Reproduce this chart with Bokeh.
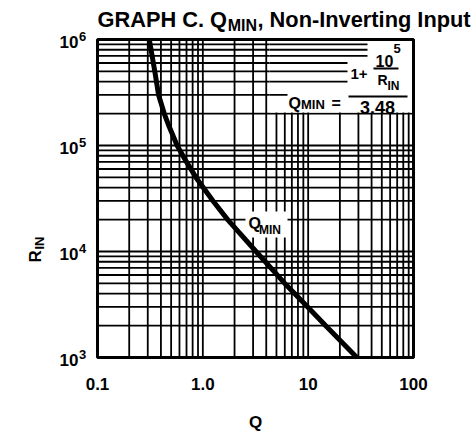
import math
from bokeh.plotting import figure
from bokeh.core.properties import value
from bokeh.embed import file_html
from bokeh.resources import INLINE

# ---- data ----
r_in = [1e6, 7e5, 5e5, 3e5, 2e5, 1.5e5, 1e5, 7e4, 5e4, 3e4, 2e4, 1e4, 5e3, 3e3, 2e3, 1e3]
q_min = [0.31, 0.33, 0.35, 0.38, 0.43, 0.48, 0.57, 0.70, 0.86, 1.25, 1.72, 3.2, 6.0, 9.9, 14.6, 29.0]

x_ticks = [0.1, 1, 10, 100]
x_tick_labels = ["0.1", "1.0", "10", "100"]
y_ticks = [1e3, 1e4, 1e5, 1e6]
y_tick_exps = ["3", "4", "5", "6"]
title_parts = ["GRAPH C. Q", "MIN", ", Non-Inverting Input"]
x_title = "Q"
y_title = ["R", "IN"]
curve_label = ["Q", "MIN"]
formula = {"lhs": "Q", "lhs_sub": "MIN", "eq": "=", "one": "1+", "num": "10", "num_exp": "5",
           "den": "R", "den_sub": "IN", "div": "3.48"}

x_minor = [m * 10 ** k for k in range(-1, 2) for m in range(2, 10)]
y_minor = [m * 10 ** k for k in range(3, 6) for m in range(2, 10)]

FONT = "Liberation Sans"
W, H = 473, 431
# plot box in canvas pixels
XL, XR, YT, YB = 97, 413, 39, 357
XDEC = (XR - XL) / 3.0
YDEC = (YB - YT) / 3.0


def dq(px):
    return 10 ** (-1 + (px - XL) / XDEC)


def dr(py):
    return 10 ** (3 + (YB - py) / YDEC)


def shift_x(v, dpx):
    return v * 10 ** (dpx / XDEC)


def shift_y(v, dpx):  # positive dpx moves down on screen
    return v * 10 ** (-dpx / YDEC)


p = figure(width=W, height=H, x_axis_type="log", y_axis_type="log",
           x_range=(dq(0), dq(W)), y_range=(dr(H), dr(0)),
           x_axis_location=None, y_axis_location=None,
           toolbar_location=None, output_backend="svg", title=None,
           min_border=0, min_border_left=0, min_border_right=0,
           min_border_top=0, min_border_bottom=0)
p.background_fill_color = "white"
p.border_fill_color = "white"
p.outline_line_color = None
p.grid.visible = False

x_lo, x_hi = x_ticks[0], x_ticks[-1]
y_lo, y_hi = y_ticks[0], y_ticks[-1]

# grid
xg = x_ticks + x_minor
yg = y_ticks + y_minor
p.segment(x0=xg, y0=[y_lo] * len(xg), x1=xg, y1=[y_hi] * len(xg),
          line_color="black", line_width=1.8)
p.segment(x0=[x_lo] * len(yg), y0=yg, x1=[x_hi] * len(yg), y1=yg,
          line_color="black", line_width=1.8)

# white area behind the formula
p.quad(left=[dq(269)], right=[x_hi], bottom=[dr(112)], top=[y_hi],
       fill_color="white", line_color=None)
box_rows = [9e5, 8e5, 7e5, 6e5, 5e5, 4e5, 3e5]
box_ends = [dq(367), dq(367), dq(367), dq(347), dq(347), dq(347), dq(287)]
p.segment(x0=[dq(269)] * len(box_rows), y0=box_rows, x1=box_ends, y1=box_rows,
          line_color="black", line_width=1.8)

# white area behind curve label
p.quad(left=[dq(245)], right=[dq(287)], bottom=[dr(237)], top=[dr(211)],
       fill_color="white", line_color=None)

# the curve
p.line(q_min, r_in, line_color="black", line_width=5)

# plot box
p.quad(left=[x_lo], right=[x_hi], bottom=[y_lo], top=[y_hi],
       fill_color=None, line_color="black", line_width=3)

K = 0.28  # baseline correction


def txt_at(s, x, y, size, align="left", angle=0.0):
    p.text(x=[x], y=[y], text=[s], text_font=value(FONT), text_font_style="bold",
           text_font_size=f"{size}px", text_align=align, text_baseline="alphabetic",
           text_color="black", angle=angle)


def txt(s, px, py, size, align="left"):
    txt_at(s, dq(px), dr(py - K * size), size, align)


# curve label
txt(curve_label[0], 248, 227, 16)
txt(curve_label[1], 258.5, 233, 12)

# formula
txt(formula["lhs"], 288, 107, 16)
txt(formula["lhs_sub"], 300.5, 108, 13)
txt(formula["eq"], 331, 107, 16)
p.segment(x0=[dq(348)], y0=[dr(96)], x1=[dq(407)], y1=[dr(96)], line_color="black", line_width=2)
txt(formula["div"], 377, 112, 18, "center")
txt(formula["one"], 350, 78, 15)
txt(formula["num"], 375, 65, 16)
txt(formula["num_exp"], 393, 52, 13)
p.segment(x0=[dq(373)], y0=[dr(68)], x1=[dq(398)], y1=[dr(68)], line_color="black", line_width=2)
txt(formula["den"], 377, 83, 14)
txt(formula["den_sub"], 387, 89, 12)

# y tick labels
for t, e in zip(y_ticks, y_tick_exps):
    txt_at("10", dq(78), shift_y(t, 7.5 - K * 17), 17, "right")
    txt_at(e, dq(78.5), shift_y(t, 0.5 - K * 13), 13, "left")

# x tick labels
for t, s in zip(x_ticks, x_tick_labels):
    txt_at(s, t, dr(388 - K * 17), 17, "center")

# axis titles
txt(x_title, 255, 427, 17, "center")
txt_at(y_title[0], dq(40 - K * 17), dr(262), 17, "left", math.pi / 2)
txt_at(y_title[1], dq(43 - K * 13), dr(249), 13, "left", math.pi / 2)

# title
txt(title_parts[0], 97, 25, 21.8)
txt(title_parts[1], 227.2, 29, 16)
txt(title_parts[2], 257, 25, 21.8)

open("out.html", "w").write(file_html(p, INLINE))
